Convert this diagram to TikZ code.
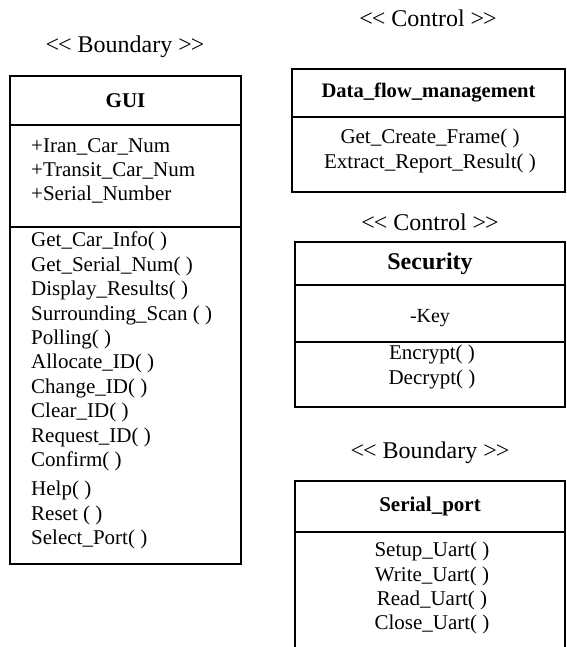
\documentclass[tikz,border=0pt]{standalone}
\usepackage{fontspec}
\setmainfont{Liberation Serif}
\usetikzlibrary{positioning, calc}

\newcommand{\stereotype}[1]{<\kern-1pt<\ #1\ >\kern-1pt>}

\tikzset{
  stereo/.style={font=\fontsize{24}{28}\selectfont},
  classname/.style={font=\fontsize{21}{25}\selectfont\bfseries},
  members/.style={font=\fontsize{21}{24.4}\selectfont, inner sep=0pt},
  umlbox/.style={draw, line width=1.5pt},
}

\begin{document}
\begin{tikzpicture}[x=1pt, y=-1pt]
  \useasboundingbox (0,0) rectangle (566,647);

  % GUI
  \node[stereo] (guistereo) at (125,47) {\stereotype{Boundary}};
  \draw[umlbox] (10,76) rectangle (241,125) node[midway, classname] (guiname) {GUI};
  \draw[umlbox] (10,125) rectangle (241,227) node[midway] (guiattr) {};
  \draw[umlbox] (10,227) rectangle (241,564) node[midway] (guiops) {};
  \node[members, anchor=north west, align=left] (guiattrtext) at (31,138)
    {+Iran\_Car\_Num\\+Transit\_Car\_Num\\+Serial\_Number};
  \node[members, anchor=north west, align=left] (guiopstext) at (31,232)
    {Get\_Car\_Info( )\\Get\_Serial\_Num( )\\Display\_Results( )\\Surrounding\_Scan ( )\\
     Polling( )\\Allocate\_ID( )\\Change\_ID( )\\Clear\_ID( )\\Request\_ID( )\\Confirm( )\\[5pt]
     Help( )\\Reset ( )\\Select\_Port( )};

  % Data_flow_management
  \node[stereo] (flowstereo) at (428,18) {\stereotype{Control}};
  \draw[umlbox] (292,69) rectangle (565,117) node[midway, classname, font=\fontsize{20.6}{24}\selectfont\bfseries] (flowname) {Data\_flow\_management};
  \draw[umlbox] (292,117) rectangle (565,192) node[midway] (flowops) {};
  \node[members, anchor=north, align=center] (flowopstext) at (430,129)
    {Get\_Create\_Frame( )\\Extract\_Report\_Result( )};

  % Security
  \node[stereo] (secstereo) at (430,222) {\stereotype{Control}};
  \draw[umlbox] (295,242) rectangle (565,285) node[midway, classname, font=\fontsize{24}{28}\selectfont\bfseries] (secname) {Security};
  \draw[umlbox] (295,285) rectangle (565,342) node[midway] (secattr) {};
  \node[members, font=\fontsize{20}{24}\selectfont] (seckey) at (430,318) {-Key};
  \draw[umlbox] (295,342) rectangle (565,407) node[midway] (secops) {};
  \node[members, anchor=north, align=center] (secopstext) at (432,345)
    {Encrypt( )\\Decrypt( )};

  % Serial_port
  \node[stereo] (portstereo) at (430,453) {\stereotype{Boundary}};
  \draw[umlbox] (295,481) rectangle (565,532) node[midway, classname] (portname) {Serial\_port};
  \draw[umlbox] (295,532) rectangle (565,665) node[midway] (portops) {};
  \node[members, anchor=north, align=center] (portopstext) at (432,542)
    {Setup\_Uart( )\\Write\_Uart( )\\Read\_Uart( )\\Close\_Uart( )};
\end{tikzpicture}
\end{document}
